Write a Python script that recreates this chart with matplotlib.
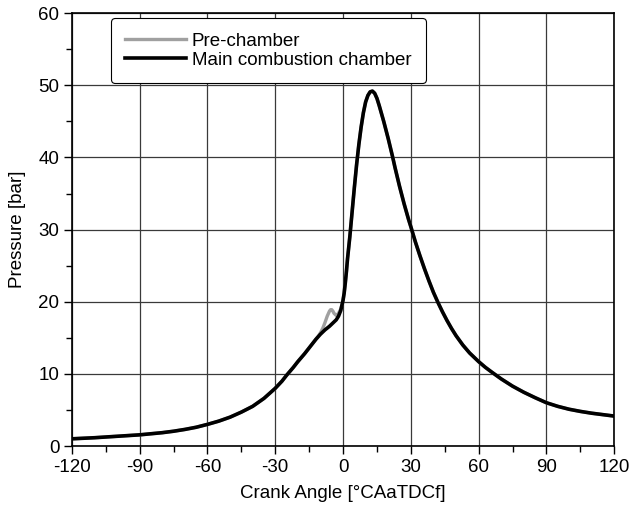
import numpy as np
import matplotlib.pyplot as plt

plt.rcParams['font.family'] = ['Liberation Sans', 'DejaVu Sans']
plt.rcParams['axes.unicode_minus'] = False

# main combustion chamber pressure
crank_angle = [-120, -110, -100, -90, -80, -75, -70, -65, -60, -55, -50, -45, -40, -35, -30, -27, -25, -22, -20,
               -17, -15, -12, -10, -8, -6, -5, -4, -3, -2, -1,
               0, 0.5, 1, 1.5, 2, 2.5, 3, 4, 5, 6, 7, 8, 9, 10, 11, 12, 13, 14, 15, 16, 17, 18, 19, 20,
               21, 22, 23, 24, 25, 26, 27, 28, 29, 30, 32, 34, 36, 38, 40, 42, 44, 46, 48, 50,
               53, 56, 60, 63, 66, 70, 75, 80, 85, 90, 95, 100, 105, 110, 115, 120]
main_pressure = [1.0, 1.15, 1.35, 1.55, 1.85, 2.05, 2.3, 2.6, 3.0, 3.45, 4.0, 4.7, 5.5, 6.6, 8.0, 9.0, 9.8, 10.9, 11.7,
                 12.8, 13.6, 14.8, 15.5, 16.1, 16.6, 16.9, 17.2, 17.5, 18.0, 18.8,
                 20.2, 21.2, 22.6, 24.2, 26.0, 27.5, 29.0, 32.4, 35.8, 39.0, 41.8, 44.2, 46.2, 47.7, 48.6, 49.1, 49.2, 48.9, 48.2, 47.2, 46.1, 45.0, 43.8, 42.6,
                 41.3, 40.0, 38.6, 37.3, 36.0, 34.8, 33.6, 32.5, 31.4, 30.4, 28.3, 26.4, 24.6, 22.9, 21.3, 19.9, 18.6, 17.4, 16.3, 15.3,
                 14.0, 12.9, 11.7, 10.9, 10.2, 9.3, 8.3, 7.45, 6.7, 6.0, 5.5, 5.1, 4.8, 4.55, 4.35, 4.15]

# pre-chamber differs only around the spark
pre_bump_angle = [-11, -10, -9, -8, -7, -6, -5.5, -5, -4.5, -4, -3, -2, -1]
pre_bump_pressure = [15.2, 15.7, 16.3, 17.1, 18.0, 18.7, 18.9, 18.9, 18.7, 18.4, 18.1, 18.4, 19.0]

ca = np.array(crank_angle, dtype=float)
pm = np.array(main_pressure)
keep = (ca < -11) | (ca > -1)
pre_angle = np.concatenate([ca[keep], pre_bump_angle])
pre_pressure = np.concatenate([pm[keep], pre_bump_pressure])
order = np.argsort(pre_angle)
pre_angle, pre_pressure = pre_angle[order], pre_pressure[order]

fig = plt.figure(figsize=(6.3, 5.08), dpi=100)
ax = fig.add_axes([0.114, 0.122, 0.861, 0.852])

ax.plot(pre_angle, pre_pressure, color='#a0a0a0', lw=2.4, label='Pre-chamber', solid_joinstyle='round')
ax.plot(ca, pm, color='black', lw=2.6, label='Main combustion chamber', solid_joinstyle='round')

ax.set_xlim(-120, 120)
ax.set_ylim(0, 60)
ax.set_xticks(np.arange(-120, 121, 30))
ax.set_xticks(np.arange(-120, 121, 15), minor=True)
ax.set_yticks(np.arange(0, 61, 10))
ax.set_yticks(np.arange(0, 61, 5), minor=True)
ax.tick_params(which='major', direction='out', length=6, width=1, labelsize=13.5, color='black', pad=3)
ax.tick_params(which='minor', direction='out', length=4, width=1, color='black')
ax.grid(True, which='major', color='#3a3a3a', lw=0.9)
for s in ax.spines.values():
    s.set_linewidth(1.2)

ax.set_xlabel('Crank Angle [°CAaTDCf]', fontsize=13.5, labelpad=7)
ax.set_ylabel('Pressure [bar]', fontsize=13.5, labelpad=9)

leg = ax.legend(loc='upper left', bbox_to_anchor=(0.072, 0.988), borderaxespad=0,
                fontsize=13.5, handlelength=3.25, handletextpad=0.32, labelspacing=0.1,
                borderpad=0.75, fancybox=True, framealpha=1, edgecolor='black')
leg.get_frame().set_linewidth(0.8)

fig.savefig('out.png', dpi=100)
